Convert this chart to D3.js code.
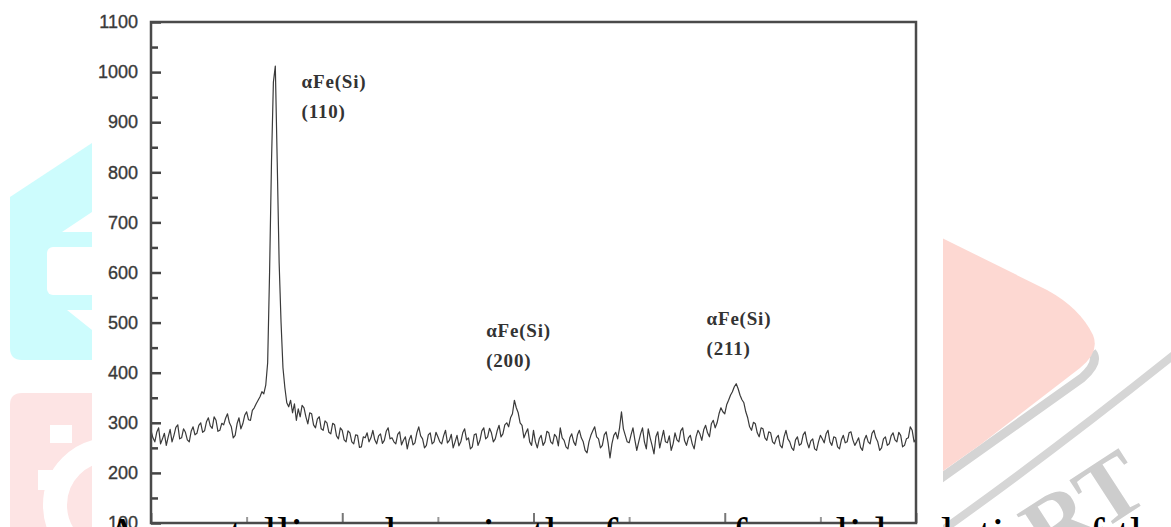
<!DOCTYPE html>
<html>
<head>
<meta charset="utf-8">
<script src="https://cdn.jsdelivr.net/npm/d3@7"></script>
<style>
  body { margin: 0; background: #fff; }
  svg { display: block; }
</style>
</head>
<body>
<div id="chart"></div>
<script>
// XRD scan: intensity (counts), one value per 0.2 deg step from 30 deg
var twoThetaStart = 30;
var twoThetaStep = 0.2;
var intensity = [
  285, 270, 262, 281, 290, 258, 268, 279, 255, 272, 287, 262, 275, 291, 296, 268, 270, 288, 281, 266,
  262, 283, 292, 276, 279, 295, 300, 281, 284, 302, 310, 294, 289, 312, 305, 283, 285, 299, 296, 309,
  318, 300, 292, 270, 275, 298, 310, 288, 298, 315, 322, 306, 305, 325, 330, 338, 345, 352, 362, 358,
  375, 420, 600, 820, 980, 1012, 820, 620, 500, 410, 370, 340, 332, 345, 320, 338, 305, 328, 312, 335,
  330, 312, 298, 320, 318, 296, 290, 308, 312, 288, 285, 304, 300, 281, 278, 299, 296, 274, 268, 290,
  285, 266, 262, 284, 280, 262, 258, 276, 275, 251, 252, 272, 270, 280, 262, 270, 285, 266, 258, 274,
  278, 259, 265, 283, 290, 268, 270, 262, 258, 277, 282, 256, 265, 272, 248, 266, 275, 256, 260, 280,
  292, 274, 268, 250, 255, 276, 280, 258, 262, 281, 272, 262, 258, 274, 285, 260, 265, 277, 250, 262,
  275, 254, 262, 280, 288, 266, 270, 248, 252, 276, 278, 255, 265, 284, 290, 268, 272, 289, 280, 262,
  268, 284, 295, 272, 278, 296, 300, 292, 310, 318, 345, 330, 320, 300, 295, 270, 280, 288, 262, 255,
  285, 262, 250, 268, 275, 255, 262, 283, 280, 262, 258, 277, 272, 254, 290, 270, 265, 252, 248, 270,
  278, 262, 255, 276, 285, 270, 262, 245, 240, 262, 275, 284, 292, 272, 268, 250, 255, 276, 282, 260,
  230, 258, 275, 281, 268, 290, 322, 288, 275, 262, 260, 276, 290, 266, 245, 262, 278, 290, 262, 248,
  288, 270, 255, 238, 272, 282, 250, 268, 285, 262, 260, 274, 245, 258, 280, 266, 262, 284, 290, 264,
  255, 270, 275, 258, 248, 272, 285, 278, 265, 286, 295, 280, 272, 298, 305, 290, 300, 318, 330, 322,
  318, 336, 345, 355, 362, 372, 378, 368, 355, 346, 340, 322, 310, 292, 285, 301, 298, 280, 272, 290,
  288, 270, 265, 282, 280, 262, 258, 270, 275, 255, 250, 272, 285, 268, 262, 250, 245, 266, 272, 255,
  258, 276, 282, 262, 250, 264, 268, 248, 245, 262, 275, 268, 260, 278, 285, 262, 255, 272, 270, 252,
  248, 266, 275, 260, 262, 280, 282, 266, 255, 262, 270, 251, 245, 266, 275, 262, 258, 279, 285, 270,
  262, 245, 250, 268, 272, 255, 258, 274, 280, 266, 262, 281, 275, 252, 255, 268, 270, 292, 285, 262,
  268
];

var yTicks = [100, 200, 300, 400, 500, 600, 700, 800, 900, 1000, 1100];
var yMinorTicks = [150, 250, 350, 450, 550, 650, 750, 850, 950, 1050];
var xTicks = [30, 50, 70, 90, 110];
var xMinorTicks = [40, 60, 80, 100];

// peak labels, anchored in data coordinates
var peakNames = ["\u03b1Fe(Si)", "\u03b1Fe(Si)", "\u03b1Fe(Si)"];
var peakHkl = ["(110)", "(200)", "(211)"];
var labelTwoTheta = [45.75, 65.05, 88.1];
var labelCounts = [968, 471, 495];

var caption = "A crystalline phase in the form of a solid solution of the iron matrix";

var W = 1171, H = 527;
var margin = {left: 151, right: 253, top: 22, bottom: 4};

var svg = d3.select("#chart").append("svg")
  .attr("width", W)
  .attr("height", H)
  .style("overflow", "hidden");

svg.append("rect").attr("width", W).attr("height", H).attr("fill", "#fff");

// --- background watermark (logo bits around the figure) ---
var wm = svg.append("g").attr("class", "watermark");
var defs = svg.append("defs");
defs.append("clipPath").attr("id", "clipLeft")
  .append("rect").attr("x", 0).attr("y", 0).attr("width", 92).attr("height", H);
defs.append("clipPath").attr("id", "clipRight")
  .append("rect").attr("x", 943).attr("y", 0).attr("width", W - 943).attr("height", H);

var left = wm.append("g").attr("clip-path", "url(#clipLeft)");
left.append("path")
  .attr("d", "M10,197 L92,143 L92,360 L22,360 Q10,360 10,348 Z")
  .attr("fill", "#cdfcfd");
left.append("path").attr("d", "M92,212 L62,232 L92,232 Z").attr("fill", "#fff");
left.append("rect").attr("x", 47).attr("y", 247).attr("width", 60).attr("height", 48)
  .attr("rx", 6).attr("fill", "#fff");
left.append("path").attr("d", "M67,310 L92,310 L92,330 Z").attr("fill", "#fff");
left.append("path")
  .attr("d", "M10,405 Q10,393 22,393 L92,393 L92,527 L10,527 Z")
  .attr("fill", "#fde4e4");
left.append("circle").attr("cx", 110).attr("cy", 505).attr("r", 55)
  .attr("fill", "none").attr("stroke", "#fff").attr("stroke-width", 24);
left.append("rect").attr("x", 50).attr("y", 425).attr("width", 22).attr("height", 18)
  .attr("fill", "#fff");
left.append("rect").attr("x", 38).attr("y", 470).attr("width", 16).attr("height", 20)
  .attr("fill", "#fff");

var right = wm.append("g").attr("clip-path", "url(#clipRight)");
right.append("path")
  .attr("d", "M930,486 L1082,378 Q1100,362 1092,352")
  .attr("fill", "none").attr("stroke", "#d4d4d4").attr("stroke-width", 9);
right.append("path")
  .attr("d", "M930,232 L1047,290 Q1080,308 1093,335 Q1100,352 1080,368 L980,445 L930,480 Z")
  .attr("fill", "#fdd8d2");
right.append("path")
  .attr("d", "M900,560 Q1030,470 1180,350")
  .attr("fill", "none").attr("stroke", "#d6d6d6").attr("stroke-width", 8);
right.append("text")
  .attr("transform", "translate(1048,566) rotate(-33)")
  .attr("font-family", "Liberation Serif, Times New Roman, serif")
  .attr("font-weight", "bold")
  .attr("font-size", 92)
  .attr("fill", "#cdcdcd")
  .text("RT");

// --- chart ---
var x = d3.scaleLinear()
  .domain([30, 110])
  .range([margin.left, W - margin.right - 2]);
var y = d3.scaleLinear()
  .domain([100, 1100])
  .range([H - margin.bottom, margin.top]);

var data = intensity.map(function(v, i) {
  return {t: twoThetaStart + i * twoThetaStep, c: v};
});

var line = d3.line()
  .x(function(d) { return x(d.t); })
  .y(function(d) { return y(d.c); });

svg.append("path")
  .datum(data)
  .attr("fill", "none")
  .attr("stroke", "#3a3a3a")
  .attr("stroke-width", 1.2)
  .attr("stroke-linejoin", "round")
  .attr("d", line);

// y axis, ticks pointing inward
var yAxis = svg.append("g")
  .attr("transform", "translate(" + margin.left + ",0)")
  .call(d3.axisLeft(y).tickValues(yTicks).tickSize(-10).tickPadding(13).tickFormat(d3.format("d")));
yAxis.select(".domain").remove();
yAxis.selectAll("line").attr("stroke", "#444").attr("stroke-width", 2.5);
yAxis.selectAll("text")
  .attr("font-family", "Liberation Sans, Arial, sans-serif")
  .attr("font-size", 18)
  .attr("fill", "#3a3a3a")
  .attr("stroke", "#3a3a3a")
  .attr("stroke-width", 0.35);

var yMinor = svg.append("g")
  .attr("transform", "translate(" + margin.left + ",0)")
  .call(d3.axisLeft(y).tickValues(yMinorTicks).tickSize(-7).tickFormat(""));
yMinor.select(".domain").remove();
yMinor.selectAll("line").attr("stroke", "#444").attr("stroke-width", 2.5);

// x axis: ticks only, no labels
var xAxis = svg.append("g")
  .attr("transform", "translate(0," + y(100) + ")")
  .call(d3.axisBottom(x).tickValues(xTicks).tickSize(-10).tickFormat(""));
xAxis.select(".domain").remove();
xAxis.selectAll("line").attr("stroke", "#777").attr("stroke-width", 2);

var xMinor = svg.append("g")
  .attr("transform", "translate(0," + y(100) + ")")
  .call(d3.axisBottom(x).tickValues(xMinorTicks).tickSize(-6).tickFormat(""));
xMinor.select(".domain").remove();
xMinor.selectAll("line").attr("stroke", "#999").attr("stroke-width", 2);

// frame
svg.append("rect")
  .attr("x", x(30))
  .attr("y", y(1100))
  .attr("width", x(110) - x(30))
  .attr("height", y(100) - y(1100))
  .attr("fill", "none")
  .attr("stroke", "#4a4a4a")
  .attr("stroke-width", 2.5);

// peak annotations
var labels = svg.append("g")
  .attr("font-family", "Liberation Serif, Times New Roman, serif")
  .attr("font-weight", "bold")
  .attr("font-size", 19)
  .attr("letter-spacing", 0.8)
  .attr("fill", "#333");
peakHkl.forEach(function(hkl, i) {
  var t = labels.append("text")
    .attr("x", x(labelTwoTheta[i]))
    .attr("y", y(labelCounts[i]));
  t.append("tspan").text(peakNames[i]);
  t.append("tspan")
    .attr("x", x(labelTwoTheta[i]))
    .attr("dy", 30)
    .text(hkl);
});

// overlapping body text from the page, cut by the bottom edge
svg.append("text")
  .attr("x", 105)
  .attr("y", 551)
  .attr("font-family", "Liberation Serif, Times New Roman, serif")
  .attr("font-size", 48)
  .attr("fill", "#000")
  .text(caption);
</script>
</body>
</html>
